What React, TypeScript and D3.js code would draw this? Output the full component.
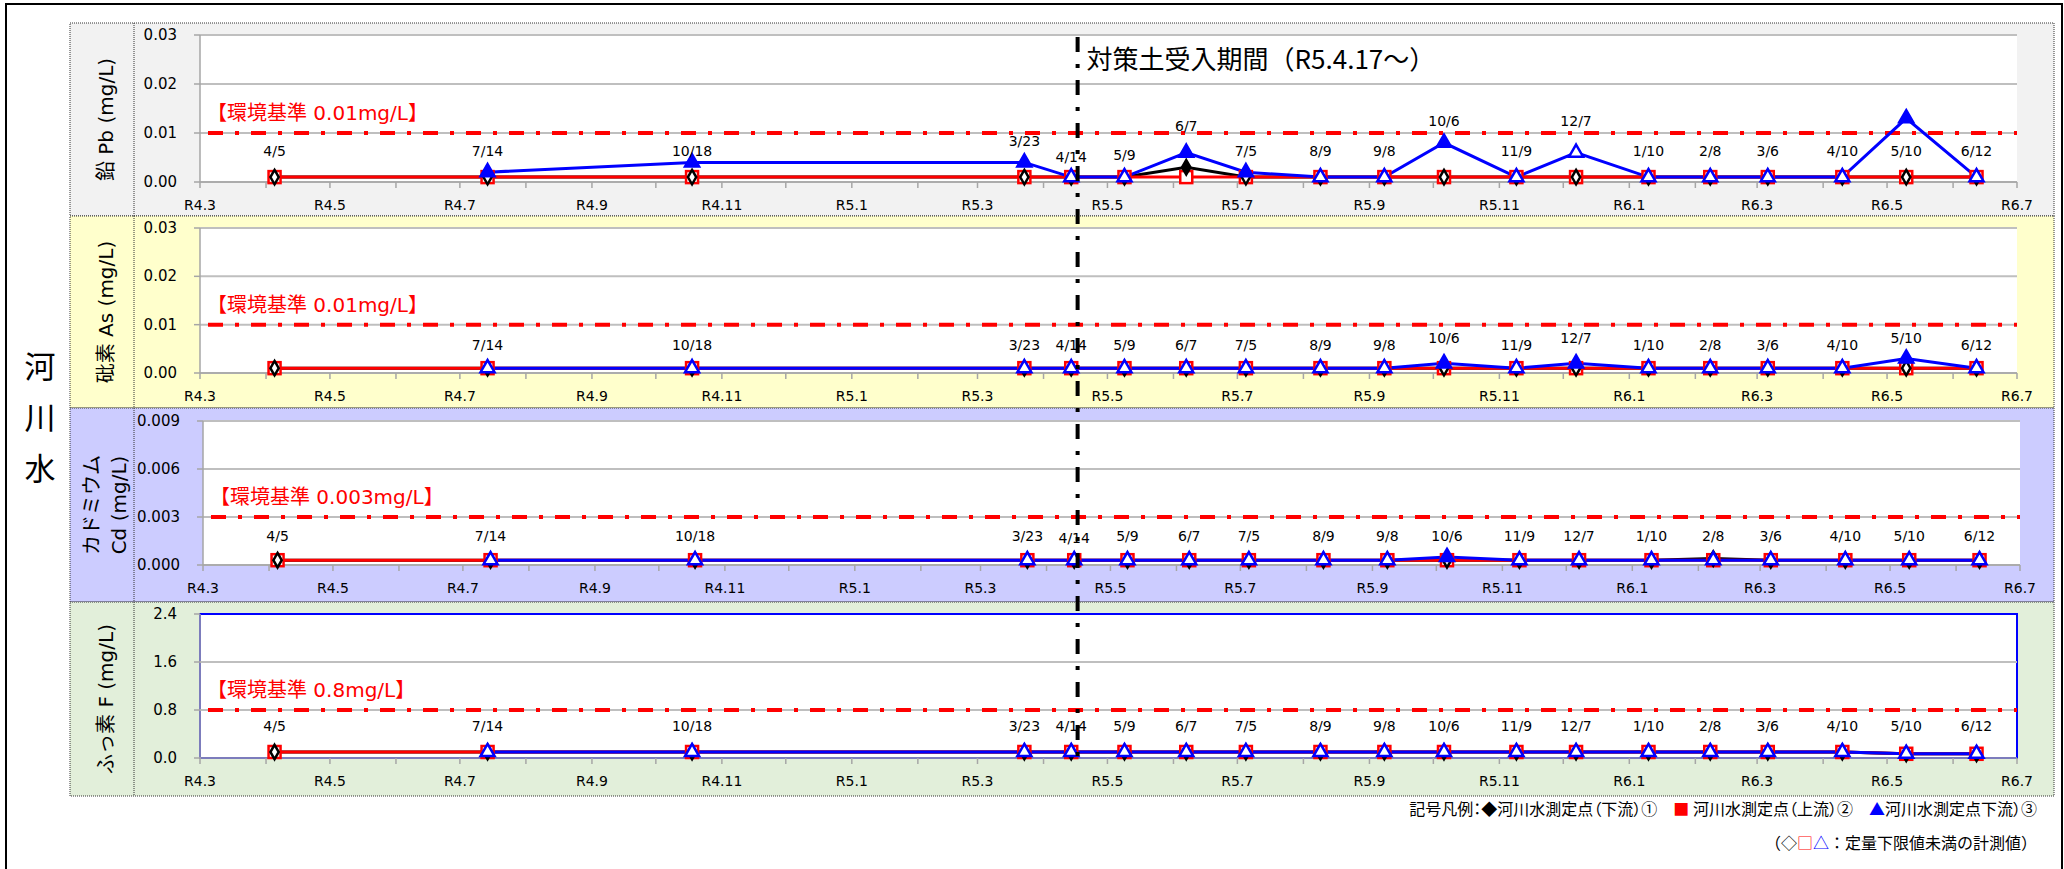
import React from "react";
import * as d3 from "d3";

// 採水日（R4 = 2022）
const sampleDates = [
  "2022-04-05", "2022-07-14", "2022-10-18", "2023-03-23", "2023-04-14",
  "2023-05-09", "2023-06-07", "2023-07-05", "2023-08-09", "2023-09-08",
  "2023-10-06", "2023-11-09", "2023-12-07", "2024-01-10", "2024-02-08",
  "2024-03-06", "2024-04-10", "2024-05-10", "2024-06-12"
];
const dateLabels = [
  "4/5", "7/14", "10/18", "3/23", "4/14", "5/9", "6/7", "7/5", "8/9", "9/8",
  "10/6", "11/9", "12/7", "1/10", "2/8", "3/6", "4/10", "5/10", "6/12"
];
const xTickLabels = [
  "R4.3", "R4.5", "R4.7", "R4.9", "R4.11", "R5.1", "R5.3", "R5.5",
  "R5.7", "R5.9", "R5.11", "R6.1", "R6.3", "R6.5", "R6.7"
];
const periodStart = "2023-04-17";

// 鉛 Pb
const pbDown1 = [0.001, 0.001, 0.001, 0.001, 0.001, 0.001, 0.003, 0.001, 0.001, 0.001, 0.001, 0.001, 0.001, 0.001, 0.001, 0.001, 0.001, 0.001, 0.001];
const pbUp2 = [0.001, 0.001, 0.001, 0.001, 0.001, 0.001, 0.001, 0.001, 0.001, 0.001, 0.001, 0.001, 0.001, 0.001, 0.001, 0.001, 0.001, 0.001, 0.001];
const pbDown3 = [null, 0.002, 0.004, 0.004, 0.001, 0.001, 0.006, 0.002, 0.001, 0.001, 0.008, 0.001, 0.006, 0.001, 0.001, 0.001, 0.001, 0.013, 0.001];
const pbDown1Found = [0, 0, 0, 0, 0, 0, 1, 0, 0, 0, 0, 0, 0, 0, 0, 0, 0, 0, 0];
const pbUp2Found = [0, 0, 0, 0, 0, 0, 0, 0, 0, 0, 0, 0, 0, 0, 0, 0, 0, 0, 0];
const pbDown3Found = [0, 1, 1, 1, 0, 0, 1, 1, 0, 0, 1, 0, 0, 0, 0, 0, 0, 1, 0];

// 砒素 As
const asDown1 = [0.001, 0.001, 0.001, 0.001, 0.001, 0.001, 0.001, 0.001, 0.001, 0.001, 0.001, 0.001, 0.001, 0.001, 0.001, 0.001, 0.001, 0.001, 0.001];
const asUp2 = [0.001, 0.001, 0.001, 0.001, 0.001, 0.001, 0.001, 0.001, 0.001, 0.001, 0.001, 0.001, 0.001, 0.001, 0.001, 0.001, 0.001, 0.001, 0.001];
const asDown3 = [null, 0.001, 0.001, 0.001, 0.001, 0.001, 0.001, 0.001, 0.001, 0.001, 0.002, 0.001, 0.002, 0.001, 0.001, 0.001, 0.001, 0.003, 0.001];
const asDown1Found = [0, 0, 0, 0, 0, 0, 0, 0, 0, 0, 0, 0, 0, 0, 0, 0, 0, 0, 0];
const asUp2Found = [0, 0, 0, 0, 0, 0, 0, 0, 0, 0, 0, 0, 0, 0, 0, 0, 0, 0, 0];
const asDown3Found = [0, 0, 0, 0, 0, 0, 0, 0, 0, 0, 1, 0, 1, 0, 0, 0, 0, 1, 0];

// カドミウム Cd
const cdDown1 = [0.0003, 0.0003, 0.0003, 0.0003, 0.0003, 0.0003, 0.0003, 0.0003, 0.0003, 0.0003, 0.0003, 0.0003, 0.0003, 0.0003, 0.0004, 0.0003, 0.0003, 0.0003, 0.0003];
const cdUp2 = [0.0003, 0.0003, 0.0003, 0.0003, 0.0003, 0.0003, 0.0003, 0.0003, 0.0003, 0.0003, 0.0003, 0.0003, 0.0003, 0.0003, 0.0003, 0.0003, 0.0003, 0.0003, 0.0003];
const cdDown3 = [null, 0.0003, 0.0003, 0.0003, 0.0003, 0.0003, 0.0003, 0.0003, 0.0003, 0.0003, 0.0005, 0.0003, 0.0003, 0.0003, 0.0003, 0.0003, 0.0003, 0.0003, 0.0003];
const cdDown1Found = [0, 0, 0, 0, 0, 0, 0, 0, 0, 0, 0, 0, 0, 0, 1, 0, 0, 0, 0];
const cdUp2Found = [0, 0, 0, 0, 0, 0, 0, 0, 0, 0, 0, 0, 0, 0, 0, 0, 0, 0, 0];
const cdDown3Found = [0, 0, 0, 0, 0, 0, 0, 0, 0, 0, 1, 0, 0, 0, 0, 0, 0, 0, 0];

// ふっ素 F
const fDown1 = [0.1, 0.1, 0.1, 0.1, 0.1, 0.1, 0.1, 0.1, 0.1, 0.1, 0.1, 0.1, 0.1, 0.1, 0.1, 0.1, 0.1, 0.07, 0.07];
const fUp2 = [0.1, 0.1, 0.1, 0.1, 0.1, 0.1, 0.1, 0.1, 0.1, 0.1, 0.1, 0.1, 0.1, 0.1, 0.1, 0.1, 0.1, 0.07, 0.07];
const fDown3 = [null, 0.1, 0.1, 0.1, 0.1, 0.1, 0.1, 0.1, 0.1, 0.1, 0.1, 0.1, 0.1, 0.1, 0.1, 0.1, 0.1, 0.07, 0.07];
const fDown1Found = [0, 0, 0, 0, 0, 0, 0, 0, 0, 0, 0, 0, 0, 0, 0, 0, 0, 0, 0];
const fUp2Found = [0, 0, 0, 0, 0, 0, 0, 0, 0, 0, 0, 0, 0, 0, 0, 0, 0, 0, 0];
const fDown3Found = [0, 0, 0, 0, 0, 0, 0, 0, 0, 0, 0, 0, 0, 0, 0, 0, 0, 0, 0];

const FONT = "'Noto Sans CJK JP', 'Noto Sans', sans-serif";
const NUM = "'DejaVu Sans', 'Noto Sans CJK JP', sans-serif";
const X0 = 200;
const X1 = 2017;

const parse = d3.timeParse("%Y-%m-%d");
const dates = sampleDates.map(d => parse(d)!);
const xStart = new Date(2022, 2, 1);
const xEnd = new Date(2024, 6, 1);

type Series = { values: (number | null)[]; found: number[]; color: string; shape: string };

const panels = [
  {
    title: ["鉛 Pb (mg/L)"], bg: "#f2f2f2", top: 23, bottom: 216, plotTop: 35, plotBottom: 182, dx: 0,
    yMax: 0.03, yTicks: [0, 0.01, 0.02, 0.03], fmt: ".2f", std: 0.01, stdText: "【環境基準 0.01mg/L】",
    series: [
      { values: pbDown1, found: pbDown1Found, color: "#000000", shape: "diamond" },
      { values: pbUp2, found: pbUp2Found, color: "#ff0000", shape: "square" },
      { values: pbDown3, found: pbDown3Found, color: "#0000ff", shape: "triangle" }
    ] as Series[],
    lift: [31, 31, 31, 41, 25, 27, 56, 31, 31, 31, 61, 31, 61, 31, 31, 31, 31, 31, 31],
    hide: [] as number[], blueBorder: false
  },
  {
    title: ["砒素 As (mg/L)"], bg: "#ffffcc", top: 216, bottom: 408, plotTop: 228, plotBottom: 373, dx: 0,
    yMax: 0.03, yTicks: [0, 0.01, 0.02, 0.03], fmt: ".2f", std: 0.01, stdText: "【環境基準 0.01mg/L】",
    series: [
      { values: asDown1, found: asDown1Found, color: "#000000", shape: "diamond" },
      { values: asUp2, found: asUp2Found, color: "#ff0000", shape: "square" },
      { values: asDown3, found: asDown3Found, color: "#0000ff", shape: "triangle" }
    ] as Series[],
    lift: [28, 28, 28, 28, 28, 28, 28, 28, 28, 28, 35, 28, 35, 28, 28, 28, 28, 35, 28],
    hide: [0], blueBorder: false
  },
  {
    title: ["カドミウム", "Cd (mg/L)"], bg: "#ccccff", top: 408, bottom: 602, plotTop: 421, plotBottom: 565, dx: 3,
    yMax: 0.009, yTicks: [0, 0.003, 0.006, 0.009], fmt: ".3f", std: 0.003, stdText: "【環境基準 0.003mg/L】",
    series: [
      { values: cdDown1, found: cdDown1Found, color: "#000000", shape: "diamond" },
      { values: cdUp2, found: cdUp2Found, color: "#ff0000", shape: "square" },
      { values: cdDown3, found: cdDown3Found, color: "#0000ff", shape: "triangle" }
    ] as Series[],
    lift: [29, 29, 29, 29, 27, 29, 29, 29, 29, 29, 29, 29, 29, 29, 29, 29, 29, 29, 29],
    hide: [] as number[], blueBorder: false
  },
  {
    title: ["ふっ素 F (mg/L)"], bg: "#e2efda", top: 602, bottom: 796, plotTop: 614, plotBottom: 758, dx: 0,
    yMax: 2.4, yTicks: [0, 0.8, 1.6, 2.4], fmt: ".1f", std: 0.8, stdText: "【環境基準 0.8mg/L】",
    series: [
      { values: fDown1, found: fDown1Found, color: "#000000", shape: "diamond" },
      { values: fUp2, found: fUp2Found, color: "#ff0000", shape: "square" },
      { values: fDown3, found: fDown3Found, color: "#0000ff", shape: "triangle" }
    ] as Series[],
    lift: [32, 32, 32, 32, 32, 32, 32, 32, 32, 32, 32, 32, 32, 32, 32, 32, 32, 32, 32],
    hide: [] as number[], blueBorder: true
  }
];

// marker drawing order: red square first, black diamond, then blue triangle
const markerOrder = [1, 0, 2];

const Marker: React.FC<{ x: number; y: number; s: Series; filled: boolean }> = ({ x, y, s, filled }) => {
  const fill = filled ? s.color : "#fff";
  if (s.shape === "square") {
    return <rect x={x - 6} y={y - 6} width={12} height={12} fill={fill} stroke={s.color} strokeWidth={2.5} />;
  }
  const sym = s.shape === "diamond" ? d3.symbolDiamond : d3.symbolTriangle;
  const size = s.shape === "diamond" ? 60 : 85;
  return (
    <path
      transform={`translate(${x},${y})`}
      d={d3.symbol(sym, size)()!}
      fill={fill}
      stroke={s.color}
      strokeWidth={2.5}
    />
  );
};

const Panel: React.FC<{ p: typeof panels[0] }> = ({ p }) => {
  const x = d3.scaleTime().domain([xStart, xEnd]).range([X0 + p.dx, X1 + p.dx]);
  const y = d3.scaleLinear().domain([0, p.yMax]).range([p.plotBottom, p.plotTop]);
  const months = d3.timeMonth.range(xStart, d3.timeDay.offset(xEnd, 1));
  const labelMonths = months.filter((_, i) => i % 2 === 0);
  const fmt = d3.format(p.fmt);
  const midY = (p.top + p.bottom) / 2;
  const [left, right] = x.range();

  return (
    <g>
      <rect x={70} y={p.top} width={1984} height={p.bottom - p.top} fill={p.bg} />
      <rect x={70} y={p.top} width={1984} height={p.bottom - p.top} fill="none" stroke="#333" strokeWidth={1} strokeDasharray="1,1" />
      <line x1={134} x2={134} y1={p.top} y2={p.bottom} stroke="#333" strokeDasharray="1,1" />
      {p.title.map((t, i) => (
        <text
          key={t}
          transform={`translate(${p.title.length === 1 ? 106 : 90 + i * 29},${midY}) rotate(-90)`}
          textAnchor="middle"
          dominantBaseline="central"
          fontSize={20}
          fontFamily={i === 0 && p.title.length > 1 ? FONT : NUM}
        >
          {t}
        </text>
      ))}

      <rect
        x={left}
        y={p.plotTop}
        width={right - left}
        height={p.plotBottom - p.plotTop}
        fill="#fff"
        stroke={p.blueBorder ? "#0000ff" : "none"}
        strokeWidth={2}
      />
      {p.yTicks.map(v => (
        <g key={v}>
          {!p.blueBorder || (v > 0 && v < p.yMax) ? (
            <line x1={left} x2={right} y1={y(v)} y2={y(v)} stroke="#bfbfbf" strokeWidth={2} />
          ) : null}
          <line x1={left - 6} x2={left} y1={y(v)} y2={y(v)} stroke="#a6a6a6" strokeWidth={1.5} />
          <text x={left - 23} y={y(v)} textAnchor="end" dominantBaseline="central" fontSize={15} fontFamily={NUM}>
            {fmt(v)}
          </text>
        </g>
      ))}
      <line x1={left} x2={left} y1={p.plotTop} y2={p.plotBottom} stroke="#a6a6a6" strokeWidth={1.5} />
      <line x1={left} x2={right} y1={p.plotBottom} y2={p.plotBottom} stroke="#a6a6a6" strokeWidth={1.5} />
      {months.map(m => (
        <line key={m.getTime()} x1={x(m)} x2={x(m)} y1={p.plotBottom} y2={p.plotBottom + 6} stroke="#a6a6a6" strokeWidth={1.5} />
      ))}
      {labelMonths.map((m, i) => (
        <text
          key={m.getTime()}
          x={x(m)}
          y={p.plotBottom + 23}
          textAnchor="middle"
          dominantBaseline="central"
          fontSize={14}
          fontFamily={NUM}
        >
          {xTickLabels[i]}
        </text>
      ))}

      {/* 環境基準 */}
      <line
        x1={left + 8}
        x2={right}
        y1={y(p.std)}
        y2={y(p.std)}
        stroke="#ff0000"
        strokeWidth={4}
        strokeDasharray="15,12,4,12"
      />
      <text x={left + 7} y={y(p.std) - 20} dominantBaseline="central" fontSize={20} fill="#ff0000" fontFamily={NUM}>
        {p.stdText}
      </text>

      {p.series.map((s, k) => {
        const line = d3
          .line<number | null>()
          .defined(v => v != null)
          .x((_, i) => x(dates[i]))
          .y(v => y(v as number));
        return <path key={k} d={line(s.values)!} fill="none" stroke={s.color} strokeWidth={3} />;
      })}
      {markerOrder.map(k => {
        const s = p.series[k];
        return (
          <g key={k}>
            {s.values.map((v, i) =>
              v == null ? null : <Marker key={i} x={x(dates[i])} y={y(v)} s={s} filled={s.found[i] === 1} />
            )}
          </g>
        );
      })}

      {dateLabels.map((t, i) =>
        p.hide.includes(i) ? null : (
          <text
            key={t}
            x={x(dates[i])}
            y={p.plotBottom - p.lift[i]}
            textAnchor="middle"
            dominantBaseline="central"
            fontSize={14}
            fontFamily={NUM}
          >
            {t}
          </text>
        )
      )}
    </g>
  );
};

export default function App() {
  const x = d3.scaleTime().domain([xStart, xEnd]).range([X0, X1]);
  const px = x(parse(periodStart)!);
  return (
    <svg width={2064} height={869} style={{ position: "absolute", left: 0, top: 0, background: "#fff" }}>
      <rect x={6} y={4} width={2056} height={900} fill="#fff" stroke="#000" strokeWidth={2} />
      {["河", "川", "水"].map((c, i) => (
        <text key={c} x={40} y={364 + i * 51} textAnchor="middle" dominantBaseline="central" fontSize={31} fontFamily={FONT}>
          {c}
        </text>
      ))}
      {panels.map((p, i) => (
        <Panel key={i} p={p} />
      ))}
      <line x1={px} x2={px} y1={37} y2={760} stroke="#000" strokeWidth={4} strokeDasharray="15,12,4,12" />
      <text x={px + 9} y={57} dominantBaseline="central" fontSize={26} fontFamily={FONT}>
        {"対策土受入期間（R5.4.17～）"}
      </text>

      <text
        x={2037}
        y={808}
        textAnchor="end"
        dominantBaseline="central"
        fontSize={16}
        fontFamily={FONT}
        style={{ fontFeatureSettings: "'palt'" }}
      >
        {"記号凡例："}
        <tspan>◆</tspan>
        {"河川水測定点（下流）①　"}
        <tspan fill="#ff0000">■</tspan>
        {" 河川水測定点（上流）②　"}
        <tspan fill="#0000ff">▲</tspan>
        {"河川水測定点下流）③"}
      </text>
      <text x={2037} y={842} textAnchor="end" dominantBaseline="central" fontSize={16} fontFamily={FONT}>
        {"（◇"}
        <tspan fill="#ff0000">□</tspan>
        <tspan fill="#0000ff">△</tspan>
        {"：定量下限値未満の計測値）"}
      </text>
    </svg>
  );
}
